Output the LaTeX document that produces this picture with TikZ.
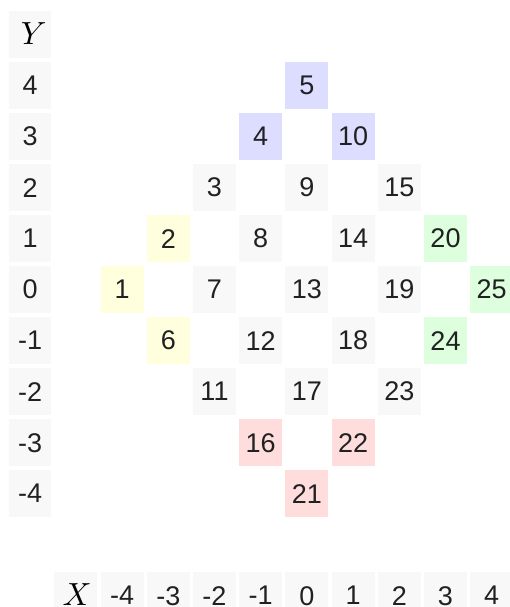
\documentclass[tikz,border=0pt]{standalone}
\usepackage{fontspec}
\setmainfont{Liberation Sans}
\font\bigmi=cmmi10 at 32pt
\definecolor{gg}{RGB}{248,248,248}
\definecolor{blu}{RGB}{221,221,255}
\definecolor{yel}{RGB}{255,255,221}
\definecolor{grn}{RGB}{221,255,221}
\definecolor{red}{RGB}{255,221,221}
\definecolor{txt}{RGB}{32,33,34}
\begin{document}
\begin{tikzpicture}[x=1pt,y=-1pt,
  cell/.style={anchor=north west, minimum width=43pt, minimum height=47pt, inner sep=0pt,
    font=\fontsize{27}{27}\selectfont, text=txt},
  ycell/.style={cell, minimum width=42pt, fill=gg},
  mlab/.style={anchor=base, inner sep=0pt, font=\bigmi, text=black}]
\useasboundingbox (0,0) rectangle (510,607);
\clip (0,0) rectangle (510,607);
% Y column
\node[ycell] (yh) at (9,11) {};
\node[mlab] (ylab) at ([yshift=-9.5pt]yh.center) {Y};
\foreach \j in {1,...,9}{
  \pgfmathtruncatemacro\v{5-\j}
  \node[ycell] (y\j) at (9,11+51*\j) {\v};
}
% X row
\node[cell, fill=gg] (xh) at (54.2,572) {};
\node[mlab] (xlab) at ([yshift=-9.5pt]xh.center) {X};
\foreach \i in {2,...,10}{
  \pgfmathtruncatemacro\v{\i-6}
  \node[cell, fill=gg] (x\i) at (8+46.2*\i,572) {\v};
}
% grid
\foreach \n/\c in {1/yel,2/yel,3/gg,4/blu,5/blu,6/yel,7/gg,8/gg,9/gg,10/blu,
  11/gg,12/gg,13/gg,14/gg,15/gg,16/red,17/gg,18/gg,19/gg,20/grn,
  21/red,22/red,23/gg,24/grn,25/grn}{
  \pgfmathtruncatemacro\a{(\n-1)/5}
  \pgfmathtruncatemacro\b{\n-1-5*\a}
  \pgfmathsetmacro\px{8+46.2*(\a+\b+2)}
  \pgfmathsetmacro\py{11+51*(5-\b+\a)}
  \node[cell, fill=\c] (n\n) at (\px,\py) {\n};
}
\end{tikzpicture}
\end{document}
